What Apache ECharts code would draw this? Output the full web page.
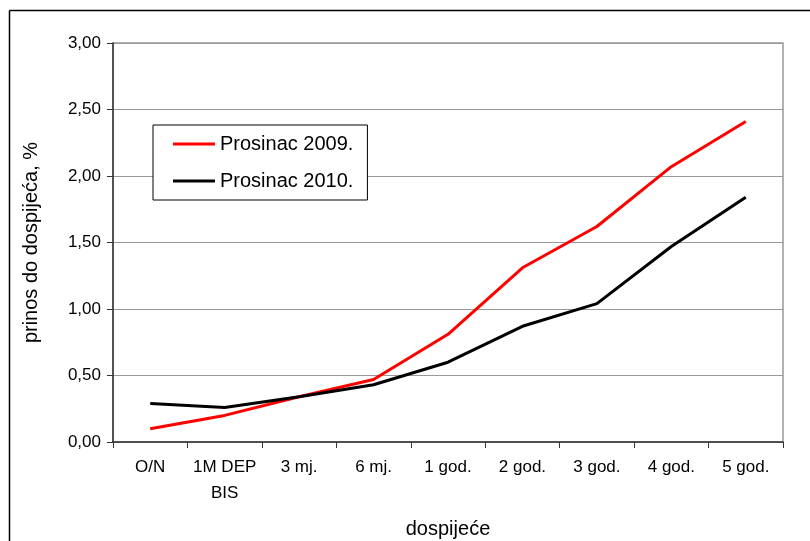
<!DOCTYPE html>
<html>
<head>
<meta charset="utf-8">
<script src="https://cdn.jsdelivr.net/npm/echarts@6/dist/echarts.min.js"></script>
<style>html,body{margin:0;padding:0;background:#fff}#c{width:810px;height:541px}</style>
</head>
<body>
<div id="c"></div>
<script>
const categories = ['O/N', '1M DEP\nBIS', '3 mj.', '6 mj.', '1 god.', '2 god.', '3 god.', '4 god.', '5 god.'];
const prosinac2009 = [0.10, 0.20, 0.34, 0.47, 0.81, 1.31, 1.62, 2.07, 2.41];
const prosinac2010 = [0.29, 0.26, 0.34, 0.43, 0.60, 0.87, 1.04, 1.47, 1.84];
const yTicks = [0, 0.5, 1, 1.5, 2, 2.5, 3];

const chart = echarts.init(document.getElementById('c'), null, {renderer: 'canvas'});
const font = 'Liberation Sans, Arial, sans-serif';
const lineIcon = 'path://M0,0L0.01,0M0,8.5H42V11.5H0ZM0,20L0.01,20';
chart.setOption({
  animation: false,
  backgroundColor: '#fff',
  grid: {left: 113, right: 27, top: 43, bottom: 99, containLabel: false, outerBoundsMode: 'none',
    show: true, borderColor: '#999', borderWidth: 1.5, backgroundColor: 'transparent'},
  graphic: [
    {type: 'line', shape: {x1: 9.5, y1: 10.5, x2: 810, y2: 10.5}, style: {stroke: '#000', lineWidth: 1.5}, silent: true},
    {type: 'line', shape: {x1: 9.5, y1: 10.5, x2: 9.5, y2: 541}, style: {stroke: '#000', lineWidth: 1.5}, silent: true}
  ],
  legend: {
    orient: 'vertical', left: 153, top: 125,
    padding: [9, 14, 9, 20], itemGap: 17, itemWidth: 42, itemHeight: 20,
    borderColor: '#000', borderWidth: 1, backgroundColor: '#fff',
    textStyle: {fontFamily: font, fontSize: 20, color: '#000'},
    data: [
      {name: 'Prosinac 2009.', icon: lineIcon},
      {name: 'Prosinac 2010.', icon: lineIcon}
    ]
  },
  xAxis: {
    type: 'category', data: categories, boundaryGap: true,
    name: 'dospijeće', nameLocation: 'middle', nameGap: 77,
    nameTextStyle: {fontFamily: font, fontSize: 20, color: '#000'},
    axisLine: {lineStyle: {color: '#333', width: 1.5}},
    axisTick: {show: true, inside: false, length: 6, alignWithLabel: false, lineStyle: {color: '#333'}},
    axisLabel: {fontFamily: font, fontSize: 17, color: '#000', margin: 12, lineHeight: 26, interval: 0},
    splitLine: {show: false}
  },
  yAxis: {
    type: 'value', min: 0, max: 3, interval: 0.5,
    name: 'prinos do dospijeća, %', nameLocation: 'middle', nameGap: 72, nameRotate: 90,
    nameTextStyle: {fontFamily: font, fontSize: 20, color: '#000'},
    axisLine: {show: true, lineStyle: {color: '#333', width: 1.5}},
    axisTick: {show: true, length: 6, lineStyle: {color: '#333'}},
    axisLabel: {fontFamily: font, fontSize: 17, color: '#000', margin: 12,
      formatter: v => yTicks.includes(v) ? v.toFixed(2).replace('.', ',') : ''},
    splitLine: {show: true, lineStyle: {color: '#999', width: 1.2}}
  },
  series: [
    {name: 'Prosinac 2009.', type: 'line', data: prosinac2009, symbol: 'none', color: '#ff0000', lineStyle: {color: '#ff0000', width: 3}, z: 3},
    {name: 'Prosinac 2010.', type: 'line', data: prosinac2010, symbol: 'none', color: '#000000', lineStyle: {color: '#000000', width: 3}, z: 4}
  ]
});
</script>
</body>
</html>
